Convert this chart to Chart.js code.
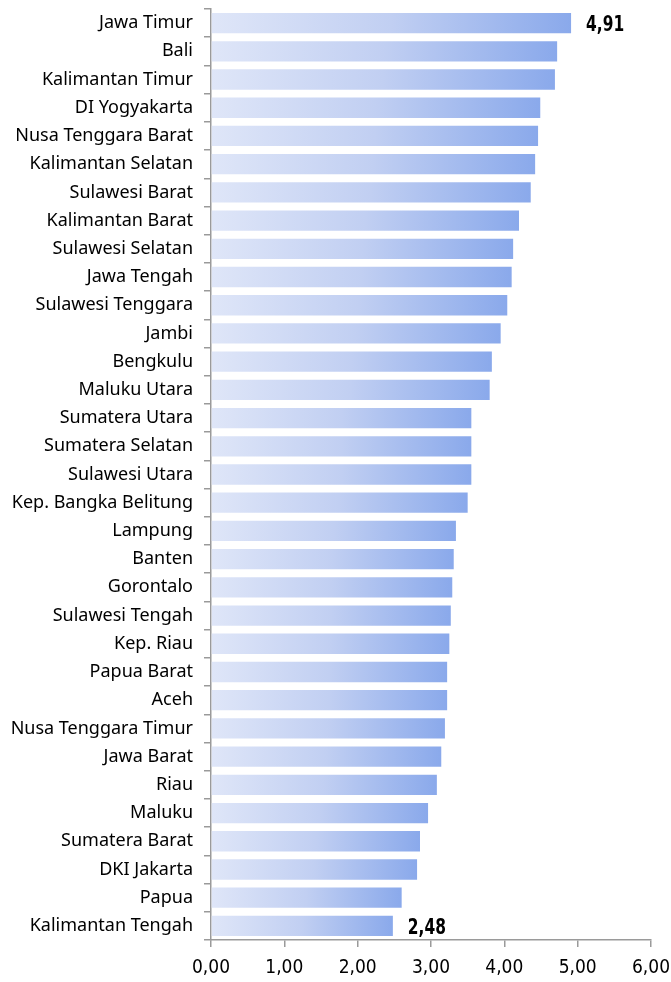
<!DOCTYPE html>
<html>
<head>
<meta charset="utf-8">
<script src="https://cdn.jsdelivr.net/npm/chart.js@4/dist/chart.umd.min.js"></script>
<style>
  html, body { margin: 0; padding: 0; background: #fff; }
  #wrap { width: 671px; height: 982px; }
</style>
</head>
<body>
<div id="wrap"><canvas id="provChart"></canvas></div>
<script>
const provinces = ['Jawa Timur', 'Bali', 'Kalimantan Timur', 'DI Yogyakarta', 'Nusa Tenggara Barat',
    'Kalimantan Selatan', 'Sulawesi Barat', 'Kalimantan Barat', 'Sulawesi Selatan', 'Jawa Tengah',
    'Sulawesi Tenggara', 'Jambi', 'Bengkulu', 'Maluku Utara', 'Sumatera Utara', 'Sumatera Selatan',
    'Sulawesi Utara', 'Kep. Bangka Belitung', 'Lampung', 'Banten', 'Gorontalo', 'Sulawesi Tengah',
    'Kep. Riau', 'Papua Barat', 'Aceh', 'Nusa Tenggara Timur', 'Jawa Barat', 'Riau', 'Maluku',
    'Sumatera Barat', 'DKI Jakarta', 'Papua', 'Kalimantan Tengah'];
const values = [4.91, 4.72, 4.69, 4.49, 4.46, 4.42, 4.36, 4.20, 4.12, 4.10, 4.04, 3.95, 3.83, 3.80,
    3.55, 3.55, 3.55, 3.50, 3.34, 3.31, 3.29, 3.27, 3.25, 3.22, 3.22, 3.19, 3.14, 3.08, 2.96, 2.85,
    2.81, 2.60, 2.48];
const xTicks = [0, 1, 2, 3, 4, 5, 6];
const labelled = [0, values.length - 1]; // only max and min get a value label

const labelFont = '"Noto Sans", sans-serif';
const numFont = '"DejaVu Sans Condensed", "DejaVu Sans", sans-serif';

function fmt(v) {
    return v.toFixed(2).replace('.', ',');
}

// each bar gets its own light-to-blue gradient
function barGradient(ctx) {
    const chart = ctx.chart;
    const x = chart.scales.x;
    if (!chart.chartArea || !x || ctx.raw == null) return '#b0c3f0';
    const x0 = x.getPixelForValue(0);
    const x1 = x.getPixelForValue(ctx.raw);
    if (!isFinite(x0) || !isFinite(x1) || x1 <= x0) return '#b0c3f0';
    const g = chart.ctx.createLinearGradient(x0, 0, x1, 0);
    g.addColorStop(0, '#dfe6f8');
    g.addColorStop(0.5, '#c1cff2');
    g.addColorStop(1, '#8aa9eb');
    return g;
}

// bold condensed value labels on the max and min bars
const valueLabels = {
    id: 'valueLabels',
    afterDatasetsDraw(chart) {
        const ctx = chart.ctx;
        const meta = chart.getDatasetMeta(0);
        labelled.forEach(i => {
            const bar = meta.data[i];
            ctx.save();
            ctx.translate(bar.x + 15, bar.y + 2);
            ctx.scale(0.78, 1);
            ctx.font = 'bold 22px ' + numFont;
            ctx.fillStyle = '#000';
            ctx.textBaseline = 'middle';
            ctx.fillText(fmt(values[i]), 0, 0);
            ctx.restore();
        });
    }
};

const chart = new Chart(document.getElementById('provChart'), {
    type: 'bar',
    data: {
        labels: provinces,
        datasets: [{
            data: values,
            backgroundColor: barGradient,
            borderWidth: 0,
            categoryPercentage: 1,
            barPercentage: 0.72
        }]
    },
    options: {
        indexAxis: 'y',
        responsive: true,
        maintainAspectRatio: false,
        animation: false,
        layout: { padding: { top: 9, right: 20, left: 0, bottom: 0 } },
        plugins: {
            legend: { display: false },
            tooltip: { enabled: false }
        },
        scales: {
            x: {
                min: 0,
                max: 6,
                afterBuildTicks(scale) {
                    scale.ticks = xTicks.map(v => ({ value: v }));
                },
                afterFit(scale) {
                    scale.height = 42;
                    scale.paddingLeft = 0;
                    scale.paddingRight = 0;
                },
                border: { color: '#9a9a9a', width: 1.5 },
                grid: { drawOnChartArea: false, tickLength: 7, color: '#9a9a9a', lineWidth: 1.5 },
                ticks: {
                    color: '#000',
                    padding: 10,
                    font: { family: numFont, size: 19 },
                    callback: v => fmt(v)
                }
            },
            y: {
                afterFit(scale) {
                    scale.width = 211;
                    scale.paddingTop = 0;
                    scale.paddingBottom = 0;
                },
                border: { color: '#9a9a9a', width: 1.5 },
                grid: { offset: true, drawOnChartArea: false, tickLength: 7, color: '#9a9a9a', lineWidth: 1.5 },
                ticks: {
                    color: '#000',
                    padding: 11,
                    autoSkip: false,
                    font: { family: labelFont, size: 18 }
                }
            }
        }
    },
    plugins: [valueLabels]
});
// redraw once the scales exist so the gradients resolve
chart.update();
</script>
</body>
</html>
